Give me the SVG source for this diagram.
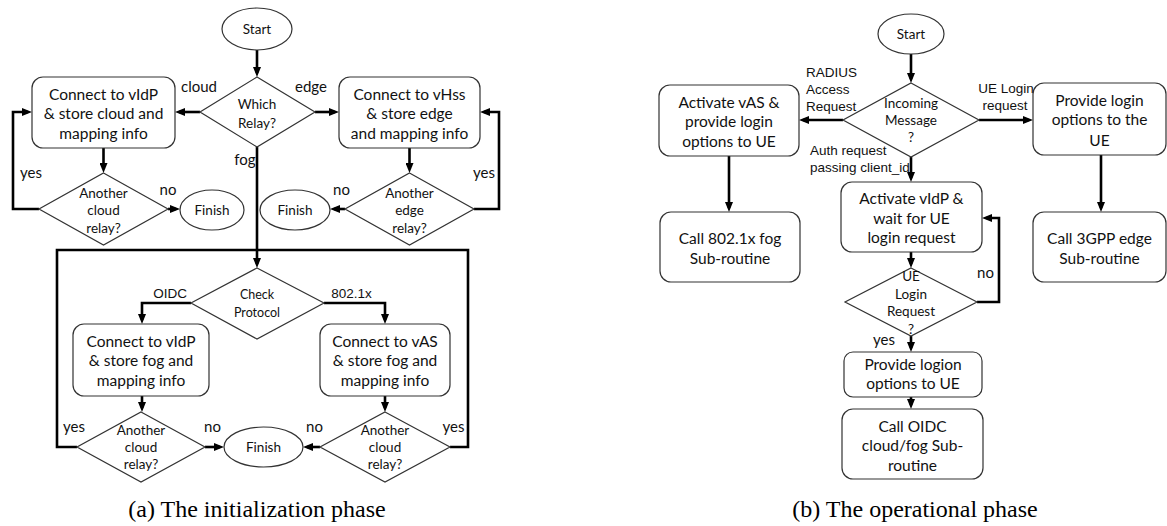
<svg xmlns="http://www.w3.org/2000/svg" width="1167" height="526" viewBox="0 0 1167 526">
<style>
  .shape { fill: #fff; stroke: #333; stroke-width: 1.2; }
  .conn { fill: none; stroke: #000; stroke-width: 2.6; }
  .t { font-family: Lato, "Open Sans", sans-serif; font-size: 15.5px; fill: #111; text-anchor: middle; }
  .td { font-family: Lato, "Open Sans", sans-serif; font-size: 13.5px; fill: #111; text-anchor: middle; }
  .ts { font-family: Lato, "Open Sans", sans-serif; font-size: 12.5px; fill: #111; text-anchor: middle; }
  .lb { font-family: Lato, "Open Sans", sans-serif; font-size: 15px; fill: #111; text-anchor: middle; }
  .la { font-family: "Liberation Sans", Arial, sans-serif; font-size: 13.5px; fill: #111; }
  .cap { font-family: "Liberation Serif", "Times New Roman", serif; font-size: 24px; fill: #000; text-anchor: middle; }
</style>
<defs>
  <marker id="ah" viewBox="0 0 10 8" refX="6" refY="4" markerWidth="10" markerHeight="8" markerUnits="userSpaceOnUse" orient="auto">
    <path d="M0,0 L10,4 L0,8 z" fill="#000"/>
  </marker>
</defs>

<g id="connectors">
  <!-- left diagram -->
  <path class="conn" d="M257,50 V73" marker-end="url(#ah)"/>
  <path class="conn" d="M200,112 H179" marker-end="url(#ah)"/>
  <path class="conn" d="M315,112 H335" marker-end="url(#ah)"/>
  <path class="conn" d="M103.5,148 V169" marker-end="url(#ah)"/>
  <path class="conn" d="M168,209 H176" marker-end="url(#ah)"/>
  <path class="conn" d="M39,209 H13 V112 H28" marker-end="url(#ah)"/>
  <path class="conn" d="M409.5,148 V169" marker-end="url(#ah)"/>
  <path class="conn" d="M345,209 H334" marker-end="url(#ah)"/>
  <path class="conn" d="M474,209 H499 V112 H484" marker-end="url(#ah)"/>
  <path class="conn" d="M257,147 V264" marker-end="url(#ah)"/>
  <path class="conn" d="M77,447 H57 V250 H468 V447 H450"/>
  <path class="conn" d="M191,303 H142 V320" marker-end="url(#ah)"/>
  <path class="conn" d="M324,303 H385 V320" marker-end="url(#ah)"/>
  <path class="conn" d="M142,396 V408" marker-end="url(#ah)"/>
  <path class="conn" d="M385,396 V408" marker-end="url(#ah)"/>
  <path class="conn" d="M205,447 H220" marker-end="url(#ah)"/>
  <path class="conn" d="M320,447 H307" marker-end="url(#ah)"/>
  <!-- right diagram -->
  <path class="conn" d="M911,54 V79" marker-end="url(#ah)"/>
  <path class="conn" d="M843,120 H803" marker-end="url(#ah)"/>
  <path class="conn" d="M979,120 H1029" marker-end="url(#ah)"/>
  <path class="conn" d="M729,156 V208" marker-end="url(#ah)"/>
  <path class="conn" d="M1101,155 V208" marker-end="url(#ah)"/>
  <path class="conn" d="M911,157 V178" marker-end="url(#ah)"/>
  <path class="conn" d="M911,252 V264" marker-end="url(#ah)"/>
  <path class="conn" d="M977,302 H999 V218 H986" marker-end="url(#ah)"/>
  <path class="conn" d="M911,336 V348" marker-end="url(#ah)"/>
  <path class="conn" d="M911,397 V405" marker-end="url(#ah)"/>
</g>

<g id="labels">
  <text class="lb" x="199" y="92">cloud</text>
  <text class="lb" x="311" y="92">edge</text>
  <text class="lb" x="245" y="165">fog</text>
  <text class="lb" x="31" y="178">yes</text>
  <text class="lb" x="168" y="195">no</text>
  <text class="lb" x="341.5" y="195">no</text>
  <text class="lb" x="484" y="178">yes</text>
  <text class="la" x="170" y="298" text-anchor="middle">OIDC</text>
  <text class="la" x="351.5" y="298" text-anchor="middle">802.1x</text>
  <text class="lb" x="74" y="432">yes</text>
  <text class="lb" x="212.5" y="432">no</text>
  <text class="lb" x="314.5" y="432">no</text>
  <text class="lb" x="453.5" y="432">yes</text>
  <text class="la" x="806" y="77">RADIUS</text>
  <text class="la" x="806" y="94">Access</text>
  <text class="la" x="806" y="111">Request</text>
  <text class="la" x="1006" y="93" text-anchor="middle">UE Login</text>
  <text class="la" x="1005" y="110" text-anchor="middle">request</text>
  <text class="la" x="810" y="155">Auth request</text>
  <text class="la" x="810" y="172">passing client_id</text>
  <text class="lb" x="985.5" y="278">no</text>
  <text class="lb" x="884" y="345">yes</text>
</g>

<!-- Left diagram nodes -->
<g id="a-start">
  <ellipse class="shape" cx="257" cy="29" rx="35" ry="21"/>
  <text class="td" x="257" y="34">Start</text>
</g>
<g id="a-which-relay">
  <polygon class="shape" points="257,77 315,112 257,147 200,112"/>
  <text class="td" x="257" y="109">Which</text>
  <text class="td" x="257" y="128">Relay?</text>
</g>
<g id="a-cloud-box">
  <rect class="shape" x="32" y="77" width="143" height="71" rx="11"/>
  <text class="t" x="103.5" y="99.5">Connect to vIdP</text>
  <text class="t" x="103.5" y="119">&amp; store cloud and</text>
  <text class="t" x="103.5" y="138.5">mapping info</text>
</g>
<g id="a-edge-box">
  <rect class="shape" x="339" y="77" width="141" height="71" rx="11"/>
  <text class="t" x="409.5" y="99.5">Connect to vHss</text>
  <text class="t" x="409.5" y="119">&amp; store edge</text>
  <text class="t" x="409.5" y="138.5">and mapping info</text>
</g>
<g id="a-cloud-decision">
  <polygon class="shape" points="103.5,173 168,209 103.5,245 39,209"/>
  <text class="td" x="103.5" y="198">Another</text>
  <text class="td" x="103.5" y="215">cloud</text>
  <text class="td" x="103.5" y="233">relay?</text>
</g>
<g id="a-finish-left">
  <ellipse class="shape" cx="212" cy="210" rx="32" ry="20"/>
  <text class="td" x="212" y="215">Finish</text>
</g>
<g id="a-edge-decision">
  <polygon class="shape" points="409.5,173 474,209 409.5,245 345,209"/>
  <text class="td" x="409.5" y="198">Another</text>
  <text class="td" x="409.5" y="215">edge</text>
  <text class="td" x="409.5" y="233">relay?</text>
</g>
<g id="a-finish-right">
  <ellipse class="shape" cx="295" cy="210" rx="35" ry="20"/>
  <text class="td" x="295" y="215">Finish</text>
</g>
<g id="a-check-protocol">
  <polygon class="shape" points="257,268 324,303 257,339 191,303"/>
  <text class="ts" x="257" y="298.5">Check</text>
  <text class="ts" x="257" y="316.5">Protocol</text>
</g>
<g id="a-fog-oidc-box">
  <rect class="shape" x="73" y="324" width="136" height="72" rx="11"/>
  <text class="t" x="141" y="346.5">Connect to vIdP</text>
  <text class="t" x="141" y="365.5">&amp; store fog and</text>
  <text class="t" x="141" y="385.5">mapping info</text>
</g>
<g id="a-fog-8021x-box">
  <rect class="shape" x="320" y="324" width="130" height="72" rx="11"/>
  <text class="t" x="385" y="346.5">Connect to vAS</text>
  <text class="t" x="385" y="365.5">&amp; store fog and</text>
  <text class="t" x="385" y="385.5">mapping info</text>
</g>
<g id="a-fog-decision-left">
  <polygon class="shape" points="141,412 205,447 141,482 77,447"/>
  <text class="td" x="141" y="435">Another</text>
  <text class="td" x="141" y="452">cloud</text>
  <text class="td" x="141" y="469">relay?</text>
</g>
<g id="a-fog-decision-right">
  <polygon class="shape" points="385,412 450,447 385,482 320,447"/>
  <text class="td" x="385" y="435">Another</text>
  <text class="td" x="385" y="452">cloud</text>
  <text class="td" x="385" y="469">relay?</text>
</g>
<g id="a-finish-center">
  <ellipse class="shape" cx="263.5" cy="447" rx="39.5" ry="20"/>
  <text class="td" x="263.5" y="452">Finish</text>
</g>
<text class="cap" x="257" y="517">(a) The initialization phase</text>

<!-- Right diagram nodes -->
<g id="b-start">
  <ellipse class="shape" cx="911" cy="34" rx="33" ry="20"/>
  <text class="td" x="911" y="39">Start</text>
</g>
<g id="b-incoming">
  <polygon class="shape" points="911,83 979,120 911,157 843,120"/>
  <text class="td" x="911" y="108">Incoming</text>
  <text class="td" x="911" y="125">Message</text>
  <text class="td" x="911" y="142">?</text>
</g>
<g id="b-vas-box">
  <rect class="shape" x="659" y="85" width="140" height="71" rx="11"/>
  <text class="t" x="729" y="107.5">Activate vAS &amp;</text>
  <text class="t" x="729" y="126.5">provide login</text>
  <text class="t" x="729" y="146.5">options to UE</text>
</g>
<g id="b-login-box">
  <rect class="shape" x="1033" y="83" width="133" height="72" rx="11"/>
  <text class="t" x="1099.5" y="105.5">Provide login</text>
  <text class="t" x="1099.5" y="124.5">options to the</text>
  <text class="t" x="1099.5" y="145.5">UE</text>
</g>
<g id="b-8021x-box">
  <rect class="shape" x="660" y="212" width="140" height="70" rx="11"/>
  <text class="t" x="730" y="243.5">Call 802.1x fog</text>
  <text class="t" x="730" y="263.5">Sub-routine</text>
</g>
<g id="b-3gpp-box">
  <rect class="shape" x="1033" y="212" width="133" height="70" rx="11"/>
  <text class="t" x="1099.5" y="243.5">Call 3GPP edge</text>
  <text class="t" x="1099.5" y="263.5">Sub-routine</text>
</g>
<g id="b-vidp-box">
  <rect class="shape" x="841" y="182" width="141" height="70" rx="11"/>
  <text class="t" x="911.5" y="203.5">Activate vIdP &amp;</text>
  <text class="t" x="911.5" y="223.5">wait for UE</text>
  <text class="t" x="911.5" y="242.5">login request</text>
</g>
<g id="b-ue-login-decision">
  <polygon class="shape" points="911,268 977,302 911,336 845,302"/>
  <text class="td" x="911" y="281">UE</text>
  <text class="td" x="911" y="299">Login</text>
  <text class="td" x="911" y="316">Request</text>
  <text class="td" x="911" y="334">?</text>
</g>
<g id="b-logion-box">
  <rect class="shape" x="844" y="352" width="138" height="45" rx="9"/>
  <text class="t" x="913" y="369.5">Provide logion</text>
  <text class="t" x="913" y="388.5">options to UE</text>
</g>
<g id="b-oidc-box">
  <rect class="shape" x="842" y="409" width="141" height="70" rx="11"/>
  <text class="t" x="912.5" y="431.5">Call OIDC</text>
  <text class="t" x="912.5" y="451">cloud/fog Sub-</text>
  <text class="t" x="912.5" y="470.5">routine</text>
</g>
<text class="cap" x="915" y="517">(b) The operational phase</text>
</svg>
